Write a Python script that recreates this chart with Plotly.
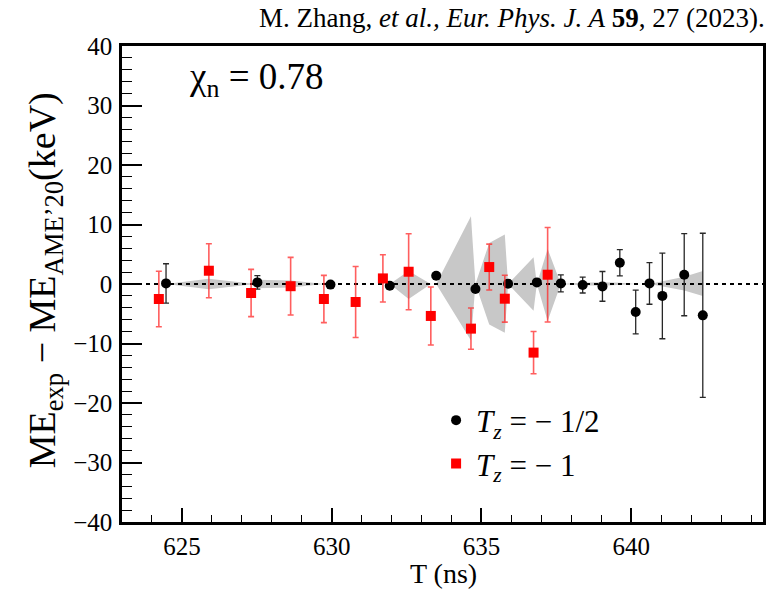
import plotly.graph_objects as go

# T_z = -1/2 (black circles)
t_half = [624.47, 627.52, 629.96, 631.94, 633.49, 634.80, 635.89, 636.85, 637.65,
          638.38, 639.04, 639.62, 640.15, 640.61, 641.04, 641.77, 642.39]
d_half = [0.1, 0.27, -0.1, -0.3, 1.4, -0.85, 0.05, 0.27, 0.1,
          -0.17, -0.4, 3.57, -4.7, 0.1, -2.0, 1.56, -5.27]
e_half = [3.3, 1.14, 0.4, 0.4, 0.4, 0.4, 0.6, 0.4, 1.43,
          1.34, 2.5, 2.2, 3.67, 3.5, 7.2, 6.9, 13.8]

# T_z = -1 (red squares)
t_one = [624.23, 625.90, 627.31, 628.63, 629.74, 630.80, 631.71, 632.57, 633.31,
         634.65, 635.26, 635.78, 636.74, 637.21]
d_one = [-2.52, 2.23, -1.51, -0.37, -2.52, -3.02, 0.94, 2.06, -5.37,
         -7.5, 2.85, -2.47, -11.53, 1.56]
e_one = [4.67, 4.53, 3.97, 4.85, 3.97, 5.96, 3.97, 6.38, 4.87,
         3.47, 3.86, 3.94, 3.55, 7.94]

# AME'20 uncertainty band (keV), at every T sorted
band_t = [624.23, 624.47, 625.90, 627.31, 627.52, 628.63, 629.74, 629.96, 630.80,
          631.71, 631.94, 632.57, 633.31, 633.49, 634.65, 634.80, 635.26, 635.78,
          635.89, 636.74, 636.85, 637.21, 637.65, 638.38, 639.04, 639.62, 640.15,
          640.61, 641.04, 641.77, 642.39]
band_up = [0.0, 0.0, 0.9, 0.1, 0.7, 0.6, 0.0, 0.0, 0.0,
           0.0, 0.0, 2.2, 0.0, 0.0, 11.4, 0.0, 6.9, 8.3,
           0.0, 4.5, 0.0, 5.9, 0.0, 0.2, 0.3, 0.2, 0.0,
           0.0, 0.4, 1.2, 2.2]
band_lo = [0.0, 0.0, 0.9, 0.1, 0.7, 0.6, 0.0, 0.0, 0.0,
           0.0, 0.0, 2.5, 0.0, 0.0, 9.5, 0.0, 6.8, 8.2,
           0.0, 4.5, 0.0, 6.2, 0.0, 0.2, 0.3, 0.2, 0.0,
           0.0, 0.4, 1.1, 2.0]

x_range = [623, 644.4]
y_range = [-40, 40]
x_ticks = [625, 630, 635, 640]
y_ticks = [-40, -30, -20, -10, 0, 10, 20, 30, 40]

FONT = "Liberation Serif"

fig = go.Figure()

fig.add_trace(go.Scatter(
    x=band_t + band_t[::-1],
    y=band_up + [-v for v in band_lo[::-1]],
    fill="toself", fillcolor="rgb(200,200,200)",
    line=dict(width=0, color="rgba(0,0,0,0)"),
    mode="lines", showlegend=False, hoverinfo="skip"))

fig.add_trace(go.Scatter(
    x=x_range, y=[0, 0], mode="lines",
    line=dict(color="black", width=2, dash="4px,4px"),
    showlegend=False, hoverinfo="skip"))

fig.add_trace(go.Scatter(
    x=t_half, y=d_half, mode="markers",
    name="<i>T</i><sub><i>z</i></sub> = − 1/2",
    legendgroup="a",
    marker=dict(symbol="circle", size=10, color="black"),
    error_y=dict(type="data", array=e_half, color="rgb(40,40,40)",
                 thickness=1.3, width=3)))

fig.add_trace(go.Scatter(
    x=t_one, y=d_one, mode="markers",
    name="<i>T</i><sub><i>z</i></sub> = − 1",
    legendgroup="b",
    marker=dict(symbol="square", size=10, color="rgb(255,0,0)"),
    error_y=dict(type="data", array=e_one, color="rgba(255,40,40,0.75)",
                 thickness=1.6, width=3)))

axis_common = dict(
    showline=True, linewidth=2.5, linecolor="black", mirror=True,
    ticks="inside", tickcolor="black", showgrid=False, zeroline=False,
    tickfont=dict(family=FONT, size=25, color="black"),
)

fig.update_xaxes(range=x_range, tickvals=x_ticks, ticklen=14, tickwidth=1.5,
                 minor=dict(dtick=1, ticklen=7, tickwidth=1.2, ticks="inside",
                            tickcolor="black", tick0=623),
                 **axis_common)
fig.update_yaxes(range=y_range, tickvals=y_ticks, ticklen=20, tickwidth=1.5,
                 minor=dict(dtick=2, ticklen=10, tickwidth=1.2, ticks="inside",
                            tickcolor="black", tick0=0),
                 ticklabelstandoff=2,
                 **axis_common)

fig.update_layout(
    width=773, height=591,
    margin=dict(l=122, r=7, t=46, b=69),
    plot_bgcolor="white", paper_bgcolor="white",
    font=dict(family=FONT, color="black"),
    showlegend=True,
    legend=dict(x=0.49, y=0.27, xanchor="left", yanchor="top",
                bgcolor="rgba(0,0,0,0)", font=dict(family=FONT, size=31),
                traceorder="grouped", tracegroupgap=0, itemwidth=30),
    annotations=[
        dict(text="M. Zhang, <i>et al., Eur. Phys. J. A</i> <b>59</b>, 27 (2023).",
             xref="paper", yref="paper", x=1.006, y=1.059,
             xanchor="right", yanchor="middle", showarrow=False,
             font=dict(family=FONT, size=27)),
        dict(text="χ<sub>n</sub> = 0.78", xref="paper", yref="paper",
             x=0.101, y=0.929, xanchor="left", yanchor="middle",
             showarrow=False, font=dict(family=FONT, size=37)),
        dict(text="ME<sub>exp</sub> − ME<sub>AME’20</sub>(keV)",
             xref="paper", yref="paper", x=-0.12, y=0.508, textangle=-90,
             xanchor="center", yanchor="middle", showarrow=False,
             font=dict(family=FONT, size=38)),
        dict(text="T (ns)", xref="paper", yref="paper", x=0.5016, y=-0.109,
             xanchor="center", yanchor="middle", showarrow=False,
             font=dict(family=FONT, size=28)),
    ],
)

fig.write_html("out.html")
